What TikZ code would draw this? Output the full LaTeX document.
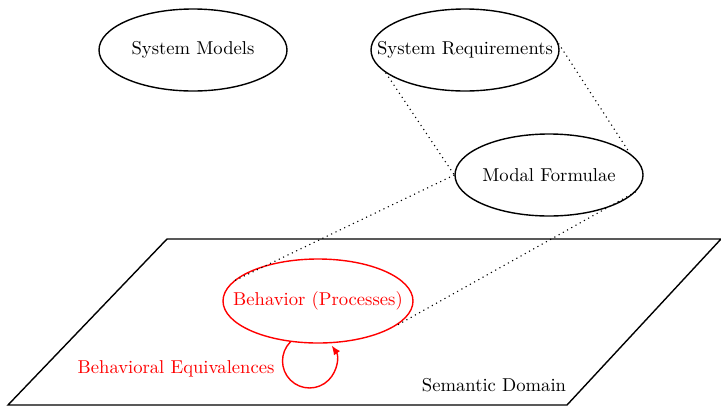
\documentclass[tikz,border=0pt]{standalone}
\usetikzlibrary{shapes.geometric,arrows.meta}
\begin{document}
\begin{tikzpicture}[x=0.537pt,y=-0.537pt,
  oval/.style={ellipse,draw,line width=0.75pt,minimum width=188*0.537pt,minimum height=82*0.537pt,inner sep=0pt},
  proj/.style={dotted,semithick},
  redtxt/.style={text=red}]
\useasboundingbox (0,0) rectangle (721,406);
\node[oval] (SM) at (193,50) {\makebox[0pt]{System Models}};
\node[oval] (SR) at (465,50) {\makebox[0pt]{System Requirements}};
\node[oval] (MF) at (549,175) {\makebox[0pt]{Modal Formulae}};
\draw[line width=0.75pt] (8,405) -- (167,239) -- (721,239) -- (567,405) -- cycle;
\node[oval,draw=red,text=red,minimum width=190*0.537pt,minimum height=84*0.537pt] (B) at (318,301) {\makebox[0pt]{Behavior (Processes)}};
\draw[proj] (SR.196) -- (MF.180);
\draw[proj] (SR.4) -- (MF.15);
\draw[proj] (MF.180) -- (B.167);
\draw[proj] (MF.-11) -- (B.-18);
\draw[red,line width=0.75pt,-{Latex[length=5pt,width=4pt]}] (B.236) arc[start angle=225,end angle=-35,radius=27];
\node[redtxt,anchor=east] (BE) at (281,369) {Behavioral Equivalences};
\node (SD) at (494,385) {Semantic Domain};
\end{tikzpicture}
\end{document}
